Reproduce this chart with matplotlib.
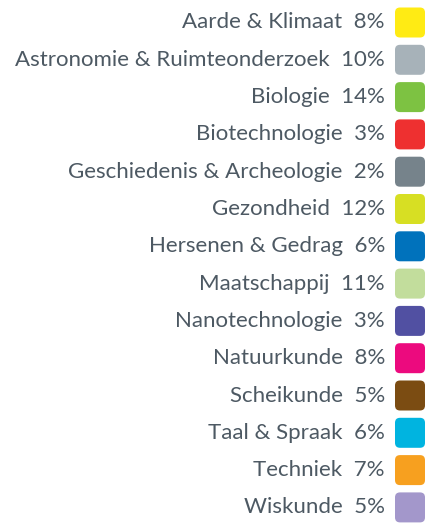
import matplotlib.pyplot as plt
from matplotlib.patches import FancyBboxPatch

categories = [
    "Aarde & Klimaat", "Astronomie & Ruimteonderzoek", "Biologie",
    "Biotechnologie", "Geschiedenis & Archeologie", "Gezondheid",
    "Hersenen & Gedrag", "Maatschappij", "Nanotechnologie", "Natuurkunde",
    "Scheikunde", "Taal & Spraak", "Techniek", "Wiskunde",
]
percentages = [8, 10, 14, 3, 2, 12, 6, 11, 3, 8, 5, 6, 7, 5]
colors = [
    "#FFEB14", "#A7B2B9", "#7DC242", "#EE3030", "#76838B", "#D7DF23",
    "#0072BC", "#C2DD9C", "#5150A2", "#EC0A7E", "#7B4C12", "#00B4E0",
    "#F7A01F", "#A397CB",
]

W, H = 428, 523
fig = plt.figure(figsize=(W / 100, H / 100), dpi=100)
ax = fig.add_axes([0, 0, 1, 1])
ax.set_xlim(0, W)
ax.set_ylim(H, 0)
ax.axis("off")

y0, step = 22.5, 37.3
for i, (cat, pct, col) in enumerate(zip(categories, percentages, colors)):
    y = y0 + i * step
    ax.text(385, y, f"{cat}  {pct}%", ha="right", va="center",
            fontsize=16, family="Lato", color="#4D5963")
    sq = FancyBboxPatch((395, y - 15), 30, 30,
                        boxstyle="round,pad=0,rounding_size=5",
                        facecolor=col, edgecolor="none")
    ax.add_patch(sq)

fig.savefig("out.png", dpi=100)
